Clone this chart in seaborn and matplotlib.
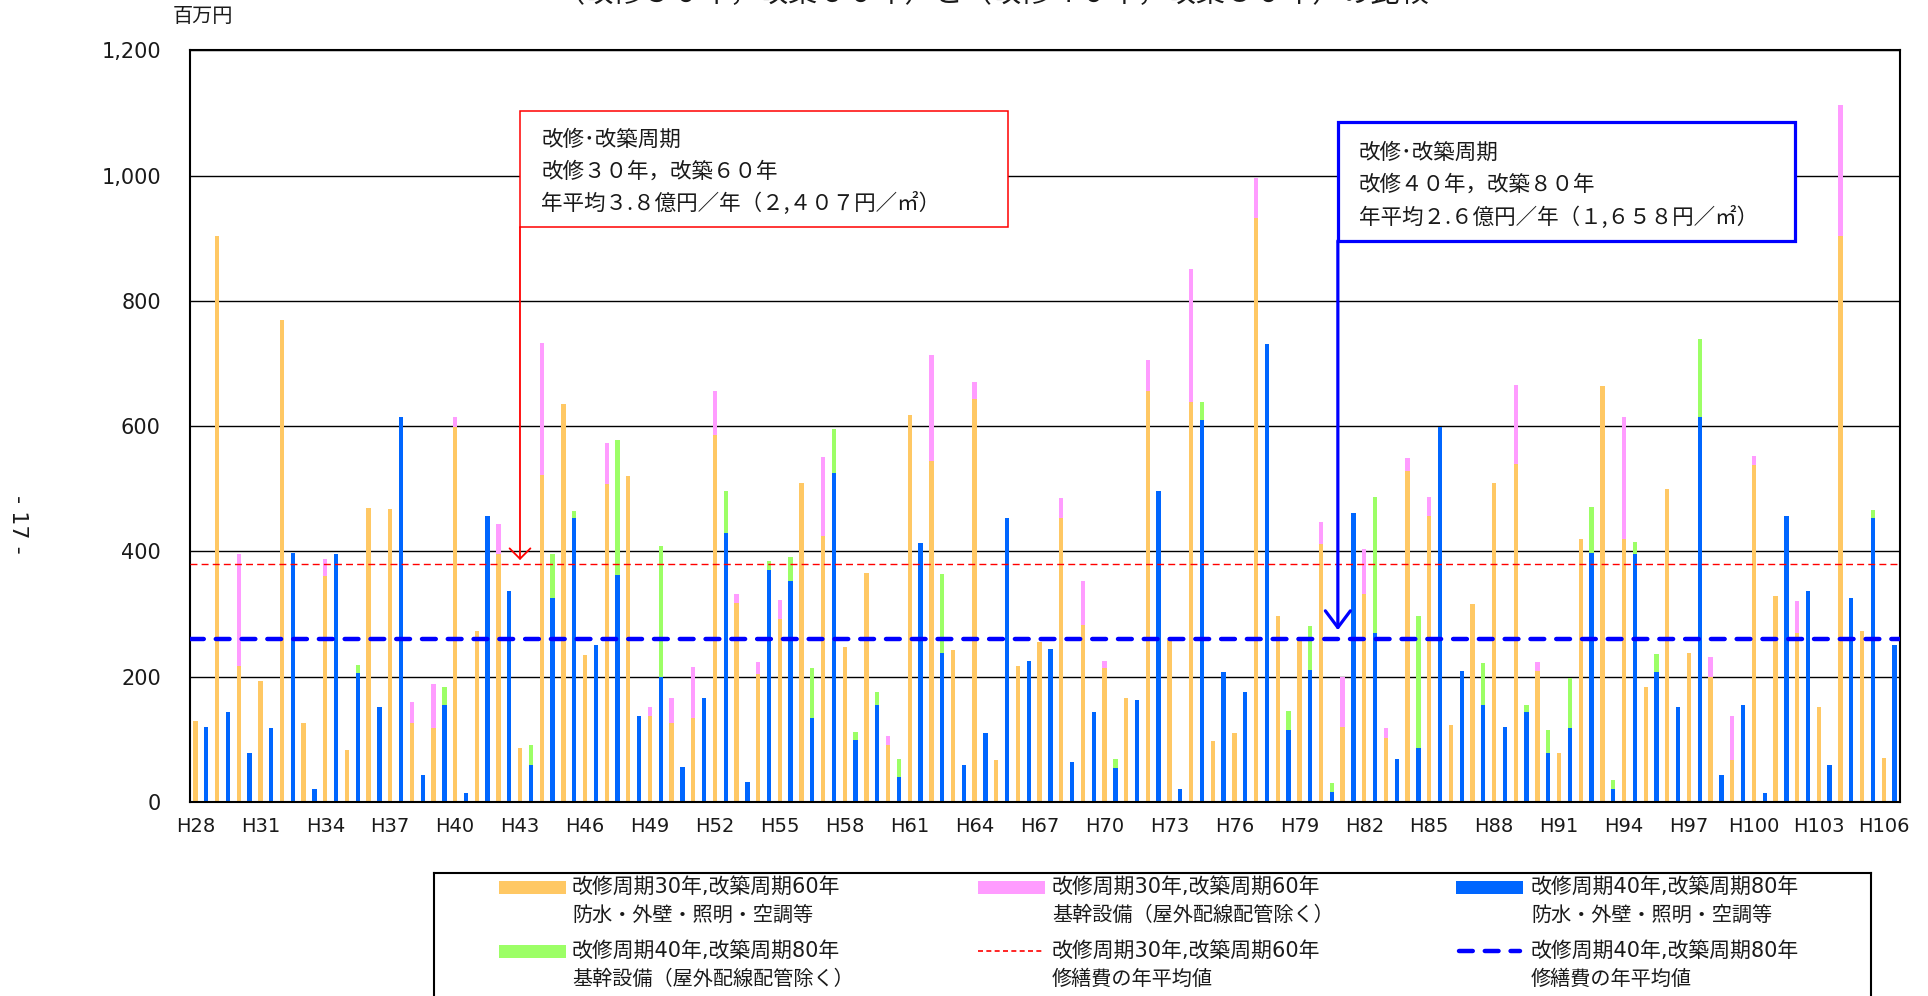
import matplotlib
matplotlib.use("Agg")
import matplotlib.pyplot as plt
from matplotlib.patches import Rectangle
from matplotlib.lines import Line2D
from matplotlib.ticker import FuncFormatter
import pandas as pd
import seaborn as sns

# ---- data (百万円) ----
years = [f"H{y}" for y in range(28, 107)]

# 改修30年・改築60年: 防水・外壁・照明・空調等
base_30_60 = [
    129, 904, 216, 193, 769, 125, 360, 82, 469, 467,
    126, 118, 599, 272, 396, 85, 522, 636, 234, 507,
    521, 137, 126, 134, 585, 318, 204, 292, 509, 424,
    247, 365, 90, 618, 545, 242, 643, 67, 216, 255,
    453, 282, 213, 165, 656, 258, 639, 97, 110, 932,
    296, 263, 411, 119, 332, 102, 529, 457, 122, 316,
    509, 540, 209, 78, 420, 664, 419, 183, 499, 238,
    200, 67, 538, 329, 270, 151, 903, 272, 70,
]
# 改修30年・改築60年: 基幹設備（屋外配線配管除く）
trunk_30_60 = [
    0, 0, 180, 0, 0, 0, 28, 0, 0, 0,
    33, 70, 15, 0, 47, 0, 211, 0, 0, 66,
    0, 14, 39, 81, 71, 14, 19, 30, 0, 126,
    0, 0, 15, 0, 168, 0, 28, 0, 0, 0,
    32, 70, 12, 0, 49, 0, 212, 0, 0, 65,
    0, 0, 36, 81, 72, 15, 20, 29, 0, 0,
    0, 126, 14, 0, 0, 0, 195, 0, 0, 0,
    31, 70, 14, 0, 50, 0, 210, 0, 0,
]
# 改修40年・改築80年: 防水・外壁・照明・空調等
base_40_80 = [
    119, 143, 77, 118, 397, 20, 395, 205, 151, 614,
    42, 155, 14, 457, 337, 59, 325, 453, 250, 362,
    137, 199, 55, 165, 429, 31, 370, 352, 133, 525,
    98, 155, 40, 413, 238, 59, 110, 453, 225, 244,
    64, 143, 54, 163, 497, 20, 610, 207, 176, 731,
    114, 211, 15, 461, 270, 68, 86, 598, 209, 155,
    119, 143, 77, 118, 397, 20, 395, 207, 151, 614,
    42, 155, 14, 457, 337, 59, 326, 453, 250,
]
# 改修40年・改築80年: 基幹設備（屋外配線配管除く）
trunk_40_80 = [
    0, 0, 0, 0, 0, 0, 0, 14, 0, 0,
    0, 29, 0, 0, 0, 31, 70, 12, 0, 215,
    0, 210, 0, 0, 68, 0, 15, 39, 80, 71,
    13, 21, 28, 0, 126, 0, 0, 0, 0, 0,
    0, 0, 14, 0, 0, 0, 29, 0, 0, 0,
    31, 69, 15, 0, 216, 0, 210, 0, 0, 66,
    0, 12, 37, 79, 73, 15, 20, 29, 0, 125,
    0, 0, 0, 0, 0, 0, 0, 13, 0,
]

avg_30_60 = 380   # 年平均 3.8億円
avg_40_80 = 260   # 年平均 2.6億円

y_ticks = [0, 200, 400, 600, 800, 1000, 1200]
tick_step = 3

title = "（改修３０年，改築６０年）と（改修４０年，改築８０年）の比較"
unit_label = "百万円"
box_30_60 = ["改修･改築周期", "改修３０年，改築６０年", "年平均３.８億円／年（２,４０７円／㎡）"]
box_40_80 = ["改修･改築周期", "改修４０年，改築８０年", "年平均２.６億円／年（１,６５８円／㎡）"]
legend_entries = [
    ("patch", "orange", ["改修周期30年,改築周期60年", "防水・外壁・照明・空調等"]),
    ("patch", "pink", ["改修周期30年,改築周期60年", "基幹設備（屋外配線配管除く）"]),
    ("patch", "blue", ["改修周期40年,改築周期80年", "防水・外壁・照明・空調等"]),
    ("patch", "green", ["改修周期40年,改築周期80年", "基幹設備（屋外配線配管除く）"]),
    ("red_line", None, ["改修周期30年,改築周期60年", "修繕費の年平均値"]),
    ("blue_line", None, ["改修周期40年,改築周期80年", "修繕費の年平均値"]),
]

# ---- style ----
COLORS = {
    "orange": "#FFC864",
    "pink": "#FF9CFF",
    "blue": "#0066FF",
    "green": "#9CFF66",
}
RED = "#FF0000"
AVG_BLUE = "#0000FF"
JP = ["Noto Sans CJK JP", "DejaVu Sans"]
JP_LATIN = ["DejaVu Sans", "Noto Sans CJK JP"]

sns.set_style("white")
plt.rcParams["font.family"] = ["DejaVu Sans", "Noto Sans CJK JP"]

W, H = 1928, 996
fig = plt.figure(figsize=(W / 100, H / 100), dpi=100)
fig.patch.set_facecolor("white")

# plot area in pixels: x 190..1900, y 50.5..801.7 (from top)
ax = fig.add_axes([190 / W, 1 - 801.7 / H, 1710 / W, (801.7 - 50.5) / H])

n = len(years)
df = pd.DataFrame({
    "year": years * 2,
    "scenario": ["30/60"] * n + ["40/80"] * n,
    "base": base_30_60 + base_40_80,
    "trunk": trunk_30_60 + trunk_40_80,
})
df["total"] = df["base"] + df["trunk"]

common = dict(
    data=df, x="year", hue="scenario", hue_order=["30/60", "40/80"],
    order=years, width=1.0, gap=0.6, dodge=True, saturation=1,
    errorbar=None, legend=False, linewidth=0, ax=ax,
)
# upper segment (基幹設備) drawn as the full stack height, base segment on top of it
sns.barplot(y="total", palette={"30/60": COLORS["pink"], "40/80": COLORS["green"]}, **common)
sns.barplot(y="base", palette={"30/60": COLORS["orange"], "40/80": COLORS["blue"]}, **common)

ax.set_xlim(-0.5, n - 0.5)
ax.set_ylim(0, 1200)
ax.set_yticks(y_ticks)
ax.yaxis.set_major_formatter(FuncFormatter(lambda v, p: f"{int(v):,}"))
tick_idx = list(range(0, n, tick_step))
ax.set_xticks([i - 0.25 for i in tick_idx])
ax.set_xticklabels([years[i] for i in tick_idx])
ax.set_xlabel("")
ax.set_ylabel("")
ax.tick_params(axis="y", length=0, pad=21, labelsize=15, colors="#1a1a1a")
ax.tick_params(axis="x", length=0, pad=11, labelsize=14, colors="#1a1a1a")

ax.set_axisbelow(True)
ax.yaxis.grid(True, color="black", linewidth=1.0)
ax.xaxis.grid(False)
for sp in ax.spines.values():
    sp.set_visible(True)
    sp.set_color("black")
    sp.set_linewidth(1.5)

# average lines
ax.axhline(avg_30_60, color=RED, linewidth=1.0, dashes=(5, 3), zorder=5)
ax.axhline(avg_40_80, color=AVG_BLUE, linewidth=3.2, dashes=(3.1, 2.7),
           dash_capstyle="round", zorder=6)

# annotation boxes with arrows
ax.add_patch(Rectangle((14.745, 918), 22.545, 185, facecolor="white",
                       edgecolor=RED, linewidth=1.1, zorder=8))
for txt, yv in zip(box_30_60, [1057, 1006, 956]):
    ax.text(15.72, yv, txt, family=JP, fontsize=15.5, ha="left", va="center",
            color="#1a1a1a", zorder=9)
ax.annotate("", xy=(14.745, 386), xytext=(14.745, 918),
            arrowprops=dict(arrowstyle="->, head_length=0.5, head_width=0.5",
                            color=RED, lw=1.3, mutation_scale=15,
                            shrinkA=0, shrinkB=0), zorder=8)

ax.add_patch(Rectangle((52.53, 896), 21.12, 189, facecolor="white",
                       edgecolor=AVG_BLUE, linewidth=2.3, zorder=8))
for txt, yv in zip(box_40_80, [1037, 985, 934]):
    ax.text(53.5, yv, txt, family=JP, fontsize=15.5, ha="left", va="center",
            color="#1a1a1a", zorder=9)
ax.annotate("", xy=(52.53, 274), xytext=(52.53, 896),
            arrowprops=dict(arrowstyle="->, head_length=0.8, head_width=0.6",
                            color=AVG_BLUE, lw=2.3, mutation_scale=15,
                            shrinkA=0, shrinkB=0), zorder=8)

# titles and side texts
fig.text(993 / W, 1 - 9 / H, title, family=JP, fontsize=21, ha="center",
         va="bottom", color="#1a1a1a")
fig.text(203 / W, 1 - 17 / H, unit_label, family=JP, fontsize=14.5,
         ha="center", va="center", color="#1a1a1a")
fig.text(18 / W, 1 - 524 / H, "- 17 -", fontsize=16, rotation=-90,
         ha="center", va="center", color="#1a1a1a")

# legend panel (pixel coordinates, y measured from the top)
lax = fig.add_axes([434 / W, 1 - 1010 / H, (1871 - 434) / W, (1010 - 873) / H])
lax.set_xlim(434, 1871)
lax.set_ylim(1010, 873)
lax.set_xticks([])
lax.set_yticks([])
for sp in lax.spines.values():
    sp.set_color("black")
    sp.set_linewidth(1.5)

col_patch_x = [499, 978, 1456]
col_text_x = [572, 1052, 1531]
row_y = [(887, 915), (951, 979)]
for k, (kind, cname, lines) in enumerate(legend_entries):
    r, c = divmod(k, 3)
    y1, y2 = row_y[r]
    px = col_patch_x[c]
    if kind == "patch":
        lax.add_patch(Rectangle((px, y1 - 6.5), 67, 13,
                                facecolor=COLORS[cname], edgecolor="none"))
    elif kind == "red_line":
        lax.add_line(Line2D([px, px + 64], [y1, y1], color=RED,
                            linewidth=1.2, dashes=(3, 2)))
    else:
        lax.add_line(Line2D([px + 3, px + 64], [y1, y1], color=AVG_BLUE,
                            linewidth=3.2, dashes=(3.1, 2.7),
                            dash_capstyle="round"))
    lax.text(col_text_x[c], y1, lines[0], family=JP_LATIN, fontsize=15,
             ha="left", va="center", color="#1a1a1a")
    lax.text(col_text_x[c], y2, lines[1], family=JP, fontsize=14.5,
             ha="left", va="center", color="#1a1a1a")

fig.savefig("out.png", dpi=100, facecolor="white")
